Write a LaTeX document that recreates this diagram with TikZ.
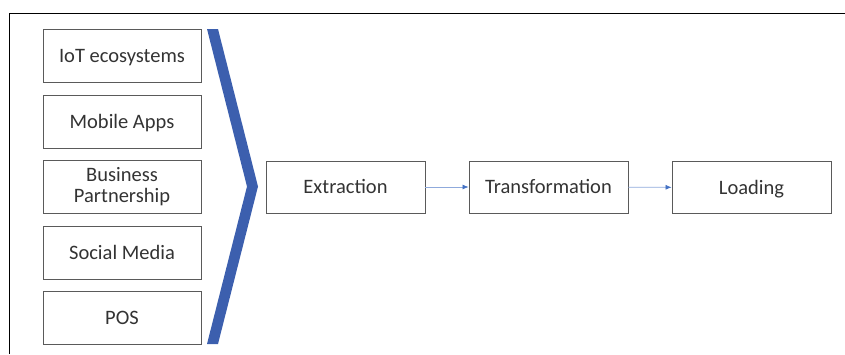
\documentclass[tikz,border=0pt]{standalone}
\usepackage{fontspec}
\setmainfont{Carlito}
\usetikzlibrary{arrows.meta}
\definecolor{boxline}{HTML}{5A5A5A}
\definecolor{chev}{HTML}{3C5FAE}
\definecolor{flow}{HTML}{8FAADC}
\definecolor{flowtip}{HTML}{4472C4}
\definecolor{txt}{HTML}{333333}
\begin{document}
\begin{tikzpicture}[x=1pt,y=-1pt,
  srcbox/.style={draw=boxline,line width=0.9pt,minimum width=158pt,minimum height=53pt,
    inner sep=0pt,text=txt,font=\fontsize{20.5}{21}\selectfont},
  oneline/.style={text height=13.5pt,text depth=0pt},
  stagebox/.style={srcbox,oneline,minimum width=159pt,minimum height=52pt},
  flowarrow/.style={draw=flow,line width=0.7pt,-{Latex[length=6pt,width=5pt,fill=flowtip,color=flowtip]}}]
  \useasboundingbox (0,0) rectangle (845,354);
  % frame edges
  \draw[black,line width=0.9pt] (845,13) -- (9.5,13) -- (9.5,354);
  % data sources
  \node[srcbox,oneline] (iot) at (122,55.5) {IoT ecosystems};
  \node[srcbox,oneline] (mob) at (122,121.5) {Mobile Apps};
  \node[srcbox,align=center] (biz) at (122,186.5) {Business\\Partnership};
  \node[srcbox,oneline] (soc) at (122,252.5) {Social Media};
  \node[srcbox,oneline] (pos) at (122,318) {POS};
  % chevron
  \fill[chev] (207,29) -- (218,29) -- (258,186.5) -- (218,344) -- (207,344) -- (247,186.5) -- cycle;
  % ETL stages
  \node[stagebox] (ext) at (345.5,187) {Extraction};
  \node[stagebox] (tra) at (548.5,187) {Transformation};
  \node[stagebox] (loa) at (751.5,187.5) {Loading};
  \draw[flowarrow] (ext) -- (tra);
  \draw[flowarrow] (tra) -- (loa);
\end{tikzpicture}
\end{document}
